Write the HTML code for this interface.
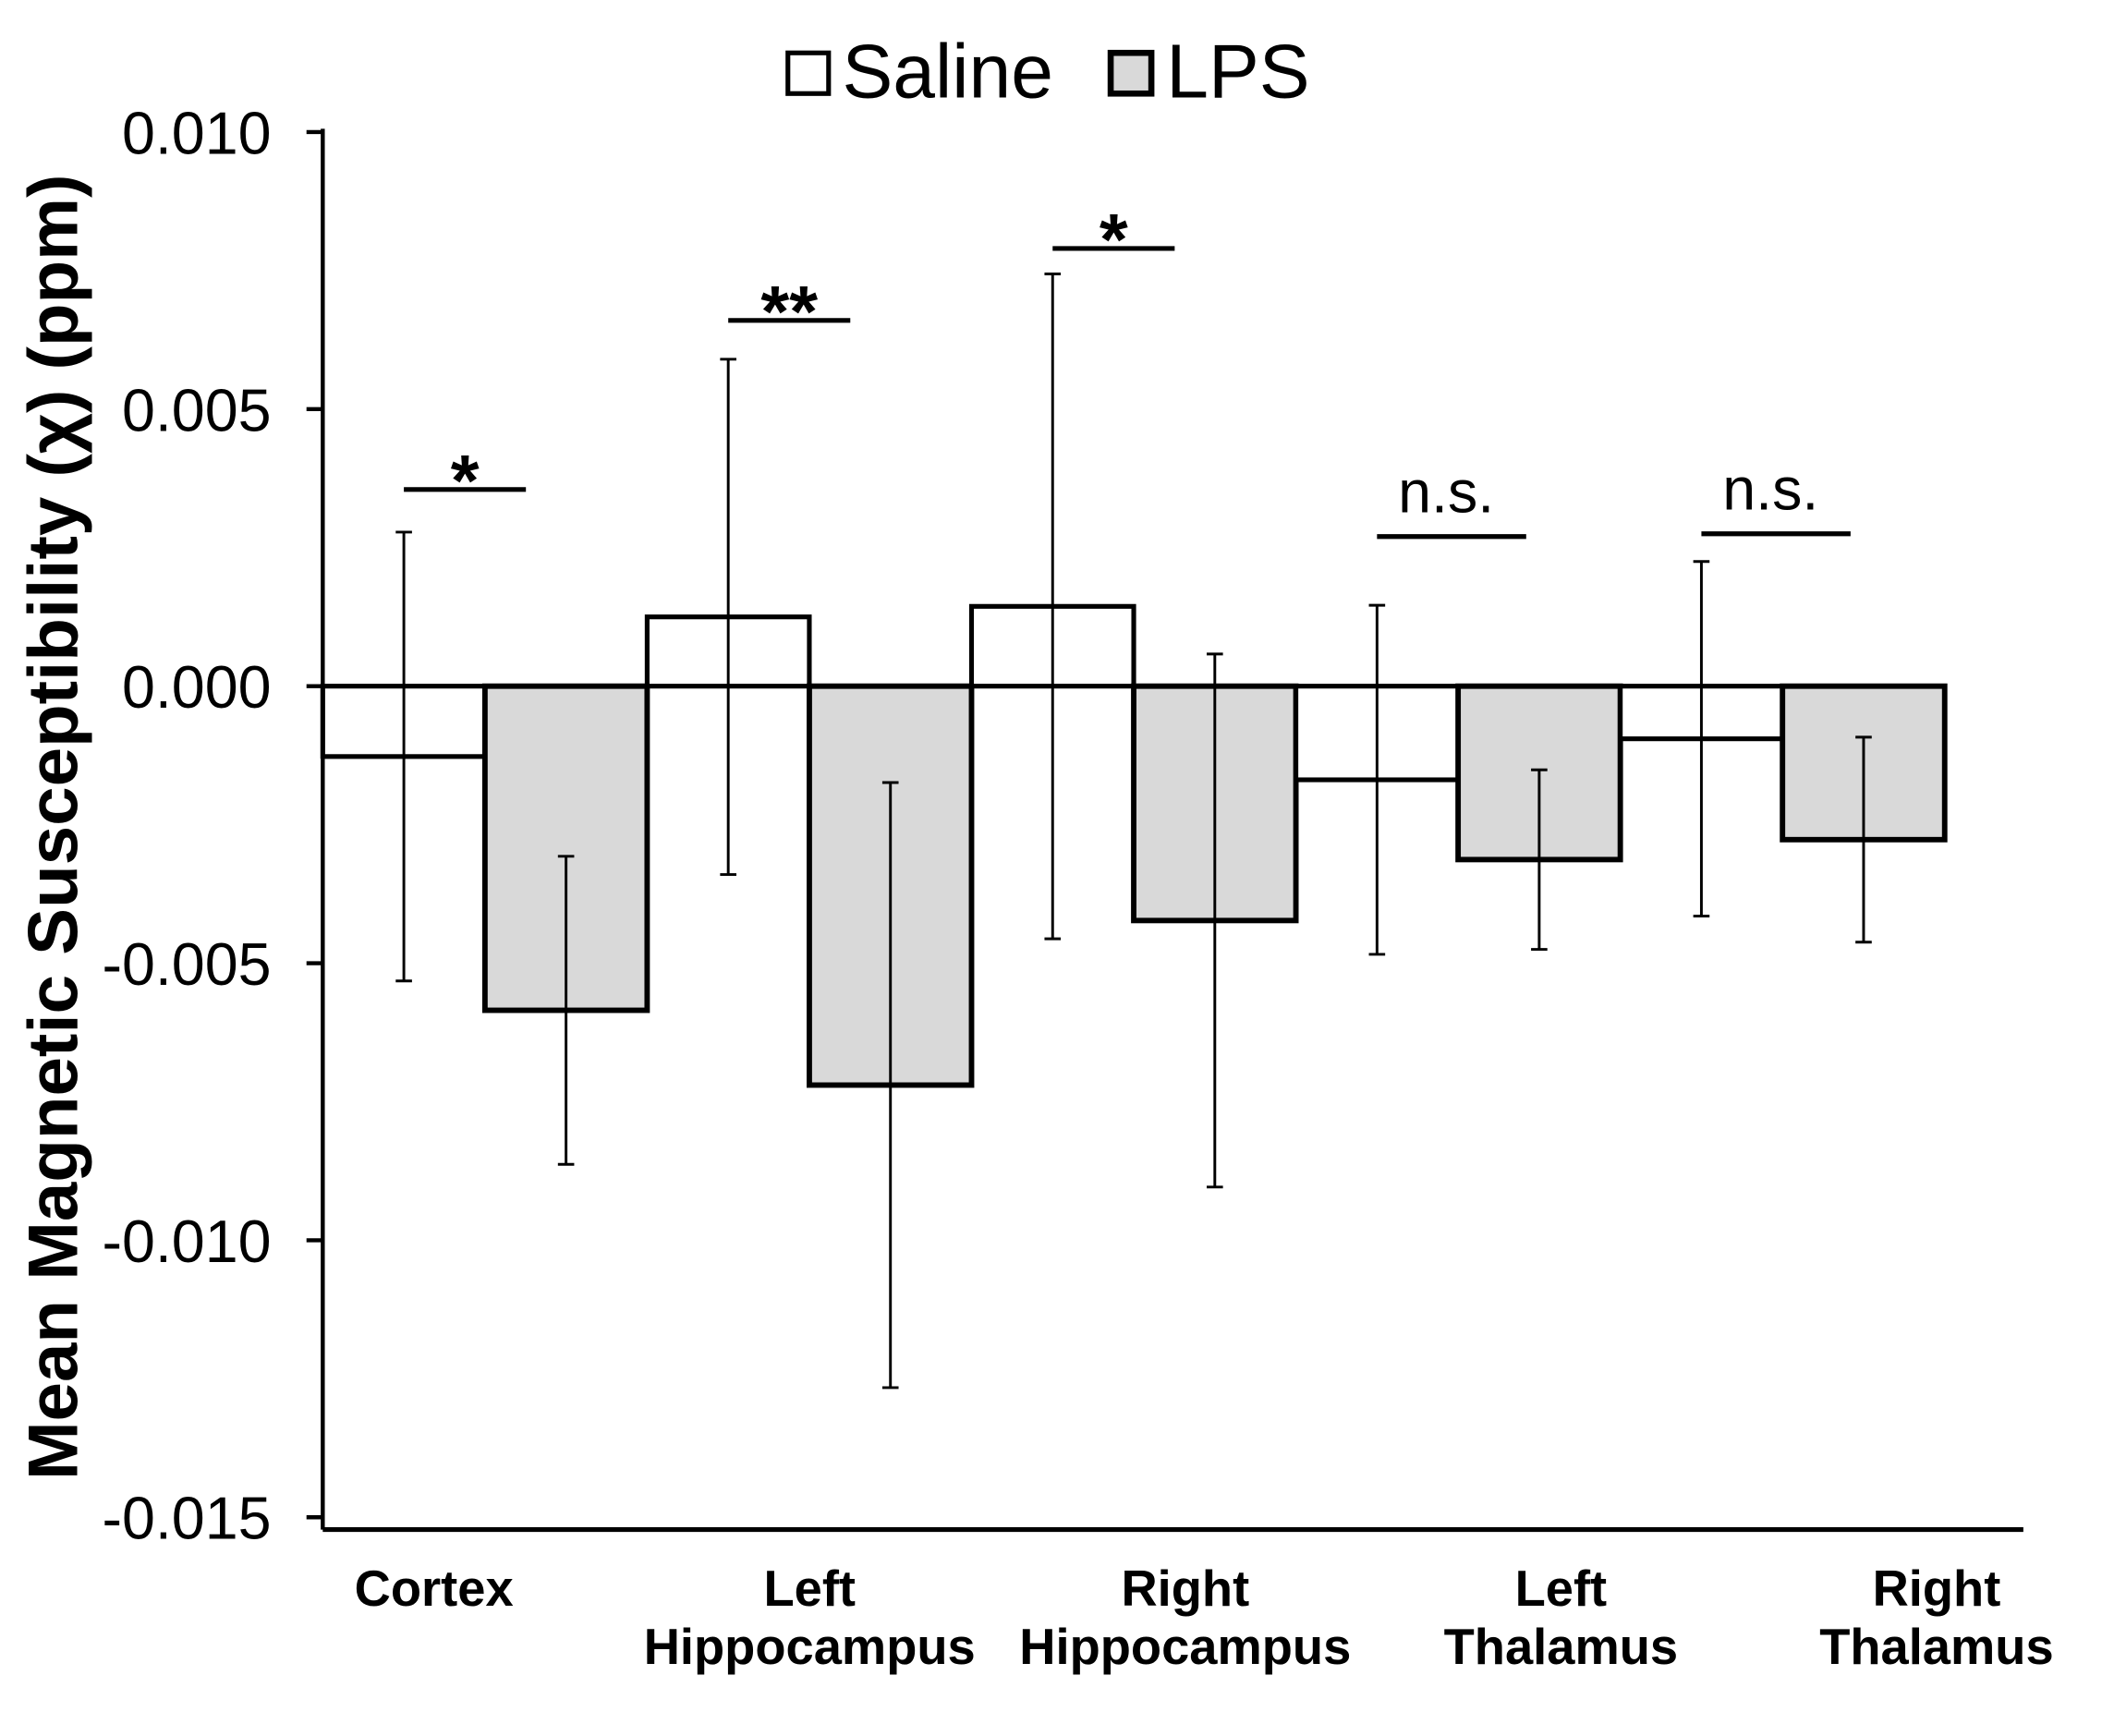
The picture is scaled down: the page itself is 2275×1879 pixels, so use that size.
<!DOCTYPE html>
<html><head><meta charset="utf-8"><style>html,body{margin:0;padding:0;background:#fff}svg{display:block}text{font-family:"Liberation Sans",Arial,sans-serif}</style></head>
<body>
<svg id="chart" width="2275" height="1879" viewBox="0 0 1550 1280.2" xmlns="http://www.w3.org/2000/svg">
<g id="legend">
<rect x="581" y="39" width="30" height="30" fill="#fff" stroke="#000" stroke-width="3.5"/>
<text x="621" y="72" font-size="56">Saline</text>
<rect x="819" y="39" width="30" height="30" fill="#d9d9d9" stroke="#000" stroke-width="4.5"/>
<text x="860" y="72" font-size="56">LPS</text>
</g>
<text transform="translate(57,610) rotate(-90)" text-anchor="middle" font-size="52" font-weight="bold">Mean  Magnetic Susceptibility  (χ) (ppm)</text>
<g id="plot"></g>
</svg>
<script>
const categories = [["Cortex"],["Left","Hippocampus"],["Right","Hippocampus"],["Left","Thalamus"],["Right","Thalamus"]];
const salineValues = [-0.00127, 0.00125, 0.00144, -0.00169, -0.00095];
const lpsValues = [-0.00585, -0.0072, -0.00423, -0.00313, -0.00277];
const salineErrors = [0.00405, 0.00465, 0.0060, 0.00315, 0.0032];
const lpsErrors = [0.00278, 0.00546, 0.00481, 0.00162, 0.00185];
const yTicks = [0.010, 0.005, 0.000, -0.005, -0.010, -0.015];
const yTickLabels = ["0.010","0.005","0.000","-0.005","-0.010","-0.015"];
const sigLabels = ["*","**","*","n.s.","n.s."];
const sigLevels = [0.00355, 0.0066, 0.0079, 0.00270, 0.00275];

const NS = "http://www.w3.org/2000/svg";
const g = document.getElementById("plot");
const x0 = 238, band = 239.2, barW = 119.6;
const y = v => 506 - v * 40860;
function el(tag, attrs, text) {
  const e = document.createElementNS(NS, tag);
  for (const k in attrs) e.setAttribute(k, attrs[k]);
  if (text !== undefined) e.textContent = text;
  g.appendChild(e);
  return e;
}
let ax = el("line", {x1: x0, y1: 95, x2: x0, y2: 1128, stroke: "#000", "stroke-width": 3});


yTicks.forEach((t, i) => {
  const tk = el("line", {x1: x0 - 12, y1: y(t), x2: x0, y2: y(t), stroke: "#000", "stroke-width": 3});
  
  
  const lb = el("text", {x: 200, y: y(t) + 16, "text-anchor": "end", "font-size": 44}, yTickLabels[i]);
  
  
});
categories.forEach((c, i) => {
  const bx = x0 + i * band;
  const s = el("rect", {x: bx, y: Math.min(y(0), y(salineValues[i])), width: barW, height: Math.abs(y(salineValues[i]) - y(0)), fill: "#fff", stroke: "#000", "stroke-width": 3.5});
  
  
  const l = el("rect", {x: bx + barW, y: Math.min(y(0), y(lpsValues[i])), width: barW, height: Math.abs(y(lpsValues[i]) - y(0)), fill: "#d9d9d9", stroke: "#000", "stroke-width": 4});
  
  
  [[salineValues[i], salineErrors[i], bx + barW / 2], [lpsValues[i], lpsErrors[i], bx + barW * 1.5]].forEach(([v, e, cx]) => {
    const t = y(v + e), b = y(v - e);
    const eb = el("path", {d: `M${cx},${t}V${b}M${cx-6},${t}H${cx+6}M${cx-6},${b}H${cx+6}`, stroke: "#000", "stroke-width": 2, fill: "none"});
    
    
  });
  const ns = sigLabels[i] === "n.s.";
  const sx1 = bx + barW / 2, sx2 = ns ? bx + barW / 2 + 110 : bx + barW / 2 + 90;
  const sl = el("line", {x1: sx1, y1: y(sigLevels[i]), x2: sx2, y2: y(sigLevels[i]), stroke: "#000", "stroke-width": 3.5});
  
  
  const st = el("text", {x: (sx1 + sx2) / 2 - (ns ? 4 : 0), y: y(sigLevels[i]) - (ns ? 18 : -12), "text-anchor": "middle", "font-size": ns ? 44 : 54, "font-weight": ns ? "normal" : "bold"}, sigLabels[i]);
  
  
  const cx = 320 + i * 277;
  c.forEach((line, j) => {
    const ct = el("text", {x: cx, y: 1184 + j * 43, "text-anchor": "middle", "font-size": 37, "font-weight": "bold"}, line);
    
    
  });
});
const zl = el("line", {x1: x0, y1: y(0), x2: x0 + 5 * band, y2: y(0), stroke: "#000", "stroke-width": 3});


const xa = el("line", {x1: x0, y1: 1128, x2: 1492, y2: 1128, stroke: "#000", "stroke-width": 3.5});


</script>
</body></html>
